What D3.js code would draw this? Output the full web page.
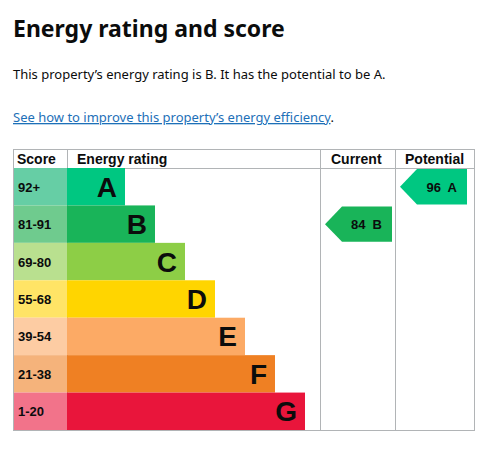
<!DOCTYPE html><html><head><meta charset="utf-8"><script src="https://cdn.jsdelivr.net/npm/d3@7"></script>
<style>body{margin:0;background:#fff}</style></head><body><svg id="c" width="504" height="456"></svg>
<script>
const bands=["A","B","C","D","E","F","G"];
const scores=["92+","81-91","69-80","55-68","39-54","21-38","1-20"];
const barEnd=[125,155,185,215,245,275,305];
const colors=["#00c781","#19b459","#8dce46","#ffd500","#fcaa65","#ef8023","#e9153b"];
const tints=["#66cea5","#6fcb8e","#b9e08f","#ffe466","#fdcca3","#f5b37b","#f2738a"];
const current={score:84,band:"B"}, potential={score:96,band:"A"};
const svg=d3.select("#c");
const sans="Liberation Sans, Arial, sans-serif";
svg.append("text").attr("x",13).attr("y",37).attr("font-family","Noto Sans, sans-serif").attr("font-weight",700).attr("font-size",23).attr("fill","#0b0c0c").text("Energy rating and score");
svg.append("text").attr("x",13).attr("y",79).attr("font-family","Noto Sans, sans-serif").attr("font-size",13).attr("fill","#0b0c0c").text("This property’s energy rating is B. It has the potential to be A.");
const lk=svg.append("text").attr("x",13).attr("y",122).attr("font-family","Noto Sans, sans-serif").attr("font-size",13);
lk.append("tspan").attr("fill","#1d70b8").attr("text-decoration","underline").text("See how to improve this property’s energy efficiency");
lk.append("tspan").attr("fill","#0b0c0c").text(".");
const y=d3.scaleBand().domain(bands).range([168,430]);
const x=d3.scaleLinear().domain([0,1]).range([0,1]);
const L=13,S=67,C1=320,C2=395,R=474,T=149;
// grid
const g=svg.append("g").attr("stroke","#b1b4b6").attr("stroke-width",1).attr("fill","none");
g.append("rect").attr("x",L+.5).attr("y",T+.5).attr("width",R-L).attr("height",430-T);
[S,C1,C2].forEach(v=>g.append("line").attr("x1",v+.5).attr("x2",v+.5).attr("y1",T).attr("y2",430));
g.append("line").attr("x1",L).attr("x2",R).attr("y1",168.5).attr("y2",168.5);
[["Score",17],["Energy rating",77],["Current",331],["Potential",405]].forEach(([t,xx])=>svg.append("text").attr("x",xx).attr("y",164).attr("font-family",sans).attr("font-weight",700).attr("font-size",14).attr("fill","#0b0c0c").text(t));
bands.forEach((b,i)=>{
  svg.append("rect").attr("x",L+1).attr("y",y(b)).attr("width",S-L-1).attr("height",y.bandwidth()).attr("fill",tints[i]);
  svg.append("rect").attr("x",S).attr("y",y(b)).attr("width",x(barEnd[i])-S).attr("height",y.bandwidth()).attr("fill",colors[i]);
  svg.append("text").attr("x",18).attr("y",y(b)+y.bandwidth()/2+5).attr("font-family",sans).attr("font-weight",700).attr("font-size",13).attr("fill","#0b0c0c").text(scores[i]);
  svg.append("text").attr("x",x(barEnd[i])-8).attr("y",y(b)+y.bandwidth()/2+10).attr("text-anchor","end").attr("font-family",sans).attr("font-weight",700).attr("font-size",28).attr("fill","#0b0c0c").text(b);
});
function arrow(d,x0,x1){
  const i=bands.indexOf(d.band),t=y(d.band)+1,h=y.bandwidth()-2,c=colors[i];
  svg.append("path").attr("d",`M${x0},${t+h/2}L${x0+17},${t}H${x1}V${t+h}H${x0+17}Z`).attr("fill",c);
  svg.append("text").attr("x",x1-10).attr("y",t+h/2+5).attr("text-anchor","end").attr("font-family",sans).attr("font-weight",700).attr("font-size",13).attr("fill","#0b0c0c").attr("xml:space","preserve").text(d.score+"  "+d.band);
}
arrow(current,325,392);arrow(potential,400,467);
</script></body></html>
